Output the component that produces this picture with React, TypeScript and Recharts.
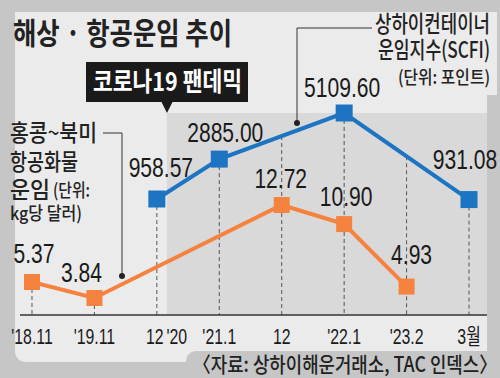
import { LabelList, Line, LineChart, ReferenceArea, ReferenceLine, XAxis, YAxis } from "recharts";

const categories = ["'18.11", "'19.11", "12 '20", "'21.1", "12", "'22.1", "'23.2", "3월"];
// 상하이컨테이너 운임지수 (포인트)
const scfi: (number | null)[] = [null, null, 958.57, 2885.0, null, 5109.6, null, 931.08];
// 홍콩~북미 항공화물 운임 (kg당 달러)
const airFreight: (number | null)[] = [5.37, 3.84, null, null, 12.72, 10.9, 4.93, null];
const pandemicStart = 2.16;

const data = categories.map((label, i) => ({ i, label, scfi: scfi[i], air: airFreight[i] }));

const X_DOMAIN = [-0.192, 7.288];
const SCFI_DOMAIN = [-4640, 5737];
const AIR_DOMAIN = [2.216, 22.75];

// label nudges [dx, dy] relative to each point
const scfiLabelPos = [[0, 0], [0, 0], [4, -22], [6, -17], [0, 0], [-2, -16], [0, 0], [-4, -31]];
const airLabelPos = [[2, -19], [-13, -16], [0, 0], [0, 0], [-1, -17], [2, -18], [5, -23], [0, 0]];

const BLUE = "#1c74c3";
const ORANGE = "#f5833f";
const NUM_FONT = "'Liberation Sans', Arial, 'Noto Sans CJK KR', sans-serif";
const KR_FONT = "'Noto Sans CJK KR', sans-serif";

// 점선 가이드: 위쪽 선(SCFI)이 지나가는 지점부터 축까지
function scfiAt(i: number): number | null {
  if (scfi[i] != null) return scfi[i];
  let p = i - 1;
  while (p >= 0 && scfi[p] == null) p--;
  let n = i + 1;
  while (n < scfi.length && scfi[n] == null) n++;
  if (p < 0 || n >= scfi.length) return null;
  const a = scfi[p] as number;
  const b = scfi[n] as number;
  return a + ((b - a) * (i - p)) / (n - p);
}

const guides = categories.map((_, i) => {
  const top = scfiAt(i);
  if (top != null) return { axis: "scfi", top, bottom: SCFI_DOMAIN[0] };
  return { axis: "air", top: airFreight[i] as number, bottom: AIR_DOMAIN[0] };
});

function NarrowText({ x, y, size, sx, children }: any) {
  return (
    <text
      transform={`translate(${x} ${y}) scale(${sx} 1)`}
      textAnchor="middle"
      fontFamily={NUM_FONT}
      fontSize={size}
      fill="#1a1a1a"
    >
      {children}
    </text>
  );
}

function square(color: string, size: number) {
  return (props: any) => {
    const { cx, cy, index, value } = props;
    if (value == null || cy == null || cx == null) return <g key={`e${index}`} />;
    return <rect key={`d${index}`} x={cx - size / 2} y={cy - size / 2} width={size} height={size} fill={color} />;
  };
}

function valueLabel(pos: number[][]) {
  return (props: any) => {
    const { x, y, value, index } = props;
    if (value == null || y == null) return null;
    const [dx, dy] = pos[index] || [0, 0];
    return (
      <NarrowText x={x + dx} y={y + dy} size={27} sx={0.78}>
        {Number(value).toFixed(2)}
      </NarrowText>
    );
  };
}

function Tick(props: any) {
  const { x, y, payload } = props;
  const parts = String(categories[payload.value] ?? "").split(" ");
  return (
    <g>
      {parts.map((p, k) => (
        <NarrowText key={k} x={x - (parts.length > 1 ? 2 : 0) + k * 22} y={y + 21} size={22} sx={0.72}>
          {p}
        </NarrowText>
      ))}
    </g>
  );
}

export default function App() {
  return (
    <div style={{ position: "absolute", left: 0, top: 0, width: 500, height: 378, background: "#c6c6c6", overflow: "hidden" }}>
      <svg width={500} height={378} style={{ position: "absolute", left: 0, top: 0 }}>
        <path d="M15,12 H497 V95 H487 V350 Q487,362 475,362 H27 Q15,362 15,350 Z" fill="#ebebeb" />
        <rect x={186} y={351} width={330} height={40} rx={10} fill="#c6c6c6" />
      </svg>
      <div style={{ position: "absolute", left: 0, top: 0 }}>
        <LineChart width={500} height={378} data={data} margin={{ top: 100, right: 13, bottom: 33, left: 20 }}>
          <XAxis
            type="number"
            dataKey="i"
            domain={X_DOMAIN}
            allowDataOverflow
            ticks={[0, 1, 2, 3, 4, 5, 6, 7]}
            interval={0}
            tick={<Tick />}
            tickLine={false}
            axisLine={{ stroke: "#333", strokeWidth: 1.5 }}
            height={30}
          />
          <YAxis yAxisId="scfi" hide type="number" domain={SCFI_DOMAIN} allowDataOverflow />
          <YAxis yAxisId="air" hide type="number" domain={AIR_DOMAIN} allowDataOverflow />
          <ReferenceArea
            yAxisId="air"
            x1={pandemicStart}
            x2={X_DOMAIN[1]}
            y1={AIR_DOMAIN[0]}
            y2={21.51}
            fill="#d9d9d9"
            fillOpacity={1}
            stroke="none"
          />
          {guides.map((g, i) => (
            <ReferenceLine
              key={i}
              yAxisId={g.axis}
              segment={[{ x: i, y: g.top }, { x: i, y: g.bottom }]}
              stroke="#555"
              strokeDasharray="4 3"
              strokeWidth={1}
            />
          ))}
          <Line
            yAxisId="scfi"
            type="linear"
            dataKey="scfi"
            stroke={BLUE}
            strokeWidth={4}
            connectNulls
            dot={square(BLUE, 17)}
            activeDot={false}
            isAnimationActive={false}
          >
            <LabelList dataKey="scfi" content={valueLabel(scfiLabelPos)} />
          </Line>
          <Line
            yAxisId="air"
            type="linear"
            dataKey="air"
            stroke={ORANGE}
            strokeWidth={4}
            connectNulls
            dot={square(ORANGE, 16)}
            activeDot={false}
            isAnimationActive={false}
          >
            <LabelList dataKey="air" content={valueLabel(airLabelPos)} />
          </Line>
        </LineChart>
      </div>
      <svg width={500} height={378} style={{ position: "absolute", left: 0, top: 0, pointerEvents: "none" }}>
        <text x={13} y={44} fontFamily={KR_FONT} fontWeight={700} fontSize={30} fill="#222" textLength={219} lengthAdjust="spacingAndGlyphs">
          해상 · 항공운임 추이
        </text>
        <rect x={86} y={62} width={162} height={40} fill="#1a1a1a" />
        <polygon points="161,101 173,101 167,113" fill="#1a1a1a" />
        <text x={93} y={91} fontFamily={KR_FONT} fontWeight={700} fontSize={26} fill="#fff" textLength={149} lengthAdjust="spacingAndGlyphs">
          코로나19 팬데믹
        </text>

        <g fontFamily={KR_FONT} fontWeight={500} fill="#222">
          <text x={375} y={32} fontSize={23} textLength={115} lengthAdjust="spacingAndGlyphs">상하이컨테이너</text>
          <text x={378} y={58} fontSize={23} textLength={112} lengthAdjust="spacingAndGlyphs">운임지수(SCFI)</text>
          <text x={398} y={84} fontSize={18} textLength={92} lengthAdjust="spacingAndGlyphs">(단위: 포인트)</text>
        </g>
        <polyline points="372,28 297,28 297,123" fill="none" stroke="#333" strokeWidth={1} />
        <circle cx={297} cy={123} r={3} fill="#222" />

        <g fontFamily={KR_FONT} fontWeight={500} fill="#222">
          <text x={10} y={141} fontSize={23} textLength={87} lengthAdjust="spacingAndGlyphs">홍콩~북미</text>
          <text x={10} y={170} fontSize={23} textLength={68} lengthAdjust="spacingAndGlyphs">항공화물</text>
          <text x={10} y={198} fontSize={23} textLength={40} lengthAdjust="spacingAndGlyphs">운임</text>
          <text x={53} y={197} fontSize={18} textLength={37} lengthAdjust="spacingAndGlyphs">(단위:</text>
          <text x={10} y={220} fontSize={18} textLength={72} lengthAdjust="spacingAndGlyphs">kg당 달러)</text>
        </g>
        <polyline points="103,133 122,133 122,276" fill="none" stroke="#333" strokeWidth={1} />
        <circle cx={122} cy={276} r={3} fill="#222" />

        <text x={193} y={372} fontFamily={KR_FONT} fontWeight={500} fontSize={21} fill="#222" textLength={304} lengthAdjust="spacingAndGlyphs">
          〈자료: 상하이해운거래소, TAC 인덱스〉
        </text>
      </svg>
    </div>
  );
}
